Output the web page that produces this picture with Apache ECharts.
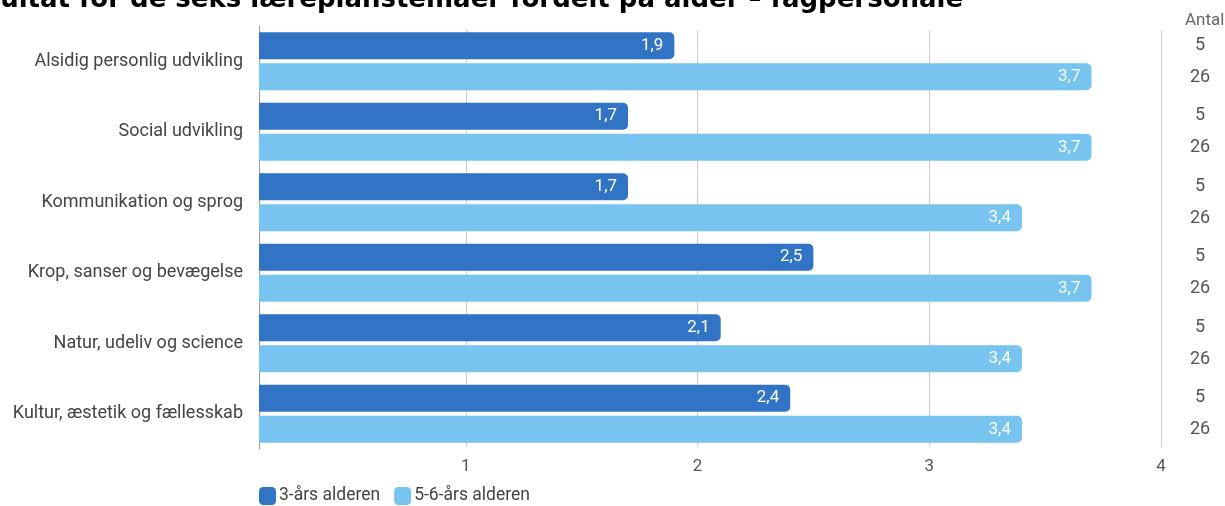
<!DOCTYPE html>
<html><head><meta charset="utf-8">
<script src="https://cdn.jsdelivr.net/npm/echarts@6/dist/echarts.min.js"></script>
<style>html,body{margin:0;padding:0;background:#fff}#c{width:1225px;height:506px}</style>
</head><body><div id="c"></div>
<script>
const titleText = 'Resultat for de seks læreplanstemaer fordelt på alder – fagpersonale';
const categories = ['Alsidig personlig udvikling','Social udvikling','Kommunikation og sprog','Krop, sanser og bevægelse','Natur, udeliv og science','Kultur, æstetik og fællesskab'];
const seriesNames = ['3-års alderen','5-6-års alderen'];
const values3 = [1.9, 1.7, 1.7, 2.5, 2.1, 2.4];
const values56 = [3.7, 3.7, 3.4, 3.7, 3.4, 3.4];
const antal3 = [5, 5, 5, 5, 5, 5];
const antal56 = [26, 26, 26, 26, 26, 26];
const xTicks = [0, 1, 2, 3, 4];

const chart = echarts.init(document.getElementById('c'), null, {renderer: 'canvas'});
const fmt = v => String(v).replace('.', ',');
const labelStyle = {show: true, position: 'insideRight', distance: 11, color: '#fff', fontSize: 17, fontFamily: 'Roboto', formatter: p => fmt(p.value)};
chart.setOption({
  animation: false,
  title: [
    {text: titleText, left: -53, top: -13, padding: 0, textStyle: {fontFamily: 'DejaVu Sans', fontWeight: 'bold', fontSize: 26, color: '#000'}},
    {text: 'Antal', left: 1180, top: 7, textStyle: {fontFamily: 'Roboto', fontWeight: 'normal', fontSize: 17, color: '#666'}}
  ],
  legend: {
    left: 259, top: 487, padding: 0, itemWidth: 17, itemHeight: 18, itemGap: 14, icon: 'roundRect',
    textStyle: {fontFamily: 'Roboto', fontSize: 17.5, color: '#444', padding: [0, 0, 0, -2]},
    data: seriesNames
  },
  grid: [
    {left: 259, right: 64, top: 26, bottom: 57},
    {left: 234, right: 64, top: 30, bottom: 59}
  ],
  xAxis: [
    {gridIndex: 0, type: 'value', min: 0.1075, max: 4, show: false},
    {gridIndex: 1, type: 'value', min: xTicks[0], max: xTicks[xTicks.length-1], interval: 1,
     axisLine: {show: false}, axisTick: {show: false},
     splitLine: {show: true, showMinLine: false, lineStyle: {color: '#cccccc', width: 1}},
     axisLabel: {margin: 11, color: '#555', fontFamily: 'Roboto', fontSize: 17, formatter: v => v === 0 ? '' : String(v)}}
  ],
  yAxis: [
    {gridIndex: 0, type: 'category', inverse: true, data: categories,
     axisLine: {show: true, lineStyle: {color: '#999', width: 1}}, axisTick: {show: false},
     axisLabel: {margin: 16, color: '#444', fontFamily: 'Roboto', fontSize: 18}},
    {gridIndex: 0, type: 'category', inverse: true, position: 'right', data: categories,
     axisLine: {show: false}, axisTick: {show: false},
     axisLabel: {margin: 39, align: 'center', color: '#555', fontFamily: 'Roboto', fontSize: 18, lineHeight: 32,
       formatter: (v, i) => antal3[i] + '\n' + antal56[i]}},
    {gridIndex: 1, type: 'category', data: categories, show: false}
  ],
  series: [
    {name: seriesNames[0], type: 'bar', xAxisIndex: 0, yAxisIndex: 0, data: values3, barWidth: 27, barGap: '15%',
     itemStyle: {color: '#3174c6', borderRadius: [0, 5, 5, 0]}, label: labelStyle, z: 3},
    {name: seriesNames[1], type: 'bar', xAxisIndex: 0, yAxisIndex: 0, data: values56, barWidth: 27, barGap: '15%',
     itemStyle: {color: '#76c4ef', borderRadius: [0, 5, 5, 0]}, label: labelStyle, z: 3}
  ]
});
</script></body></html>
